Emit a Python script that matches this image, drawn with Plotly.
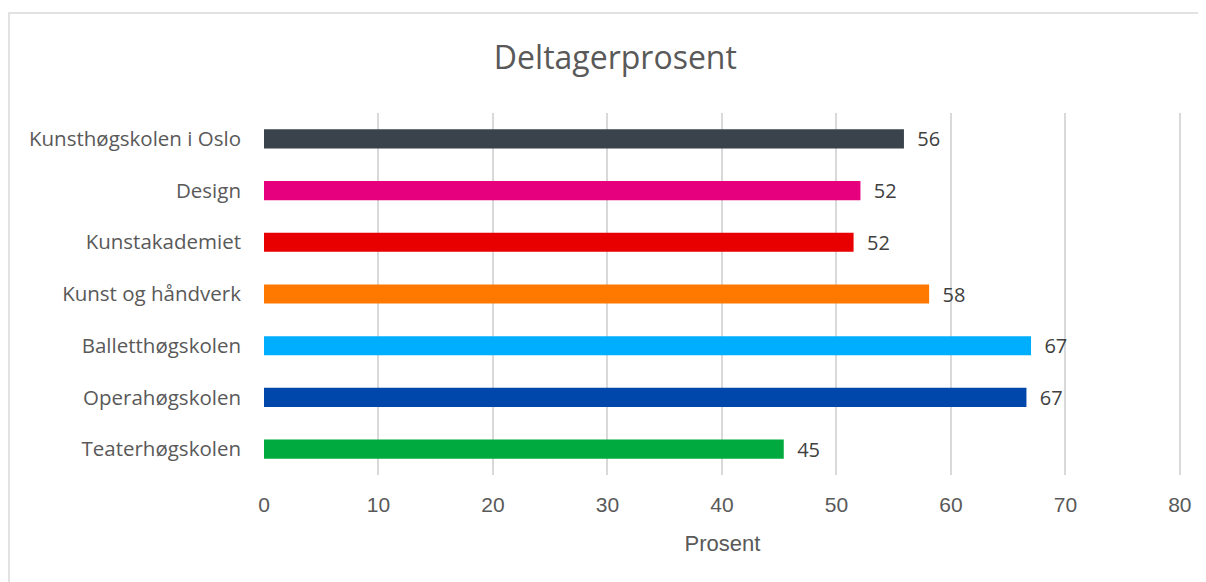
import plotly.graph_objects as go

# data (bottom to top order as drawn by plotly)
schools = ['Teaterhøgskolen', 'Operahøgskolen', 'Balletthøgskolen', 'Kunst og håndverk',
           'Kunstakademiet', 'Design', 'Kunsthøgskolen i Oslo']
percent = [45.4, 66.6, 67.0, 58.1, 51.5, 52.1, 55.9]
labels = ['45', '67', '67', '58', '52', '52', '56']
colors = ['#00AA3F', '#0047AB', '#00AEFF', '#FF7800', '#E80000', '#E6007E', '#3A434B']

narrow = 'Liberation Sans Narrow, Arial Narrow, sans-serif'

fig = go.Figure()
fig.add_trace(go.Bar(
    y=schools, x=percent, orientation='h',
    marker=dict(color=colors, line=dict(width=0)),
    text=['\u00a0\u00a0' + t for t in labels],
    textposition='outside', cliponaxis=False, constraintext='none',
    textfont=dict(family='Open Sans', size=20, color='#404040'),
    hoverinfo='x+y',
))

# page body has an 8px margin, so the figure is a bit smaller than the window
fig.update_layout(
    width=1198, height=574,
    margin=dict(l=256, r=25, t=105, b=107),
    paper_bgcolor='white', plot_bgcolor='white',
    bargap=0.63,
    showlegend=False,
    title=dict(text='Deltagerprosent', x=0.507, xanchor='center', y=0.913, yanchor='middle',
               font=dict(family='Open Sans', size=32, color='#595959')),
    font=dict(family='Open Sans', color='#595959'),
    xaxis=dict(range=[0, 80.1], tickvals=list(range(0, 81, 10)), showgrid=True,
               gridcolor='#D9D9D9', gridwidth=1.5,
               zeroline=False, showline=False, ticks='', ticklabelstandoff=15,
               tickfont=dict(family=narrow, size=21, color='#595959'),
               title=dict(text='Prosent', font=dict(family=narrow, size=22, color='#595959'),
                          standoff=20)),
    yaxis=dict(showgrid=False, zeroline=False, showline=False, ticks='',
               tickfont=dict(size=20.5, color='#595959'), ticklabelstandoff=22),
)

# outer chart border (only top and left edges are visible in the window)
fig.add_shape(type='rect', xref='paper', yref='paper',
              x0=-255/917, x1=1.2, y0=-0.6, y1=1 + 100/362,
              line=dict(color='#D9D9D9', width=1.5), layer='below')

fig.write_html('out.html')
